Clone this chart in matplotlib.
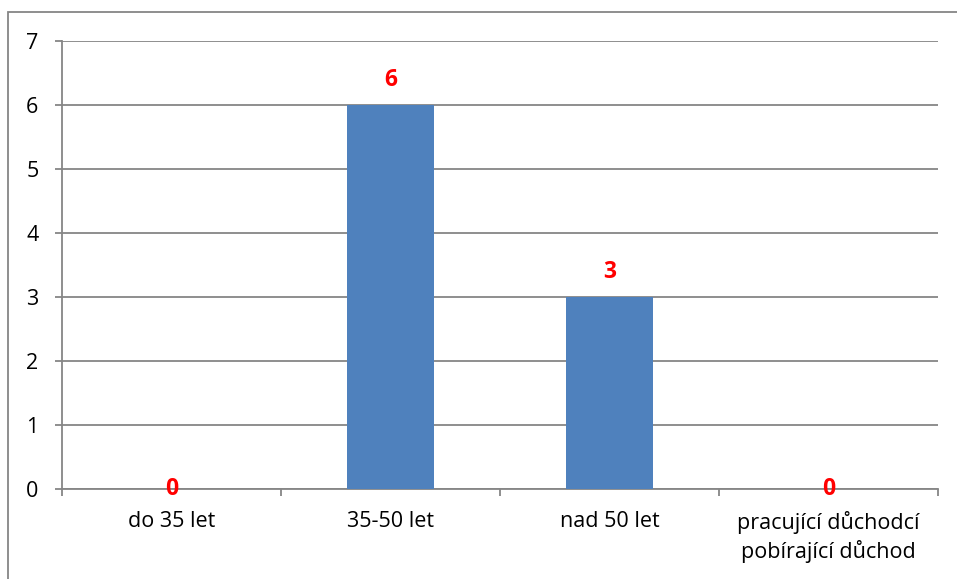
import matplotlib
matplotlib.use("Agg")
import matplotlib.pyplot as plt
from matplotlib.patches import Rectangle

categories = ["do 35 let", "35-50 let", "nad 50 let", "pracující důchodcí\npobírající důchod"]
values = [0, 6, 3, 0]
yticks = [0, 1, 2, 3, 4, 5, 6, 7]

plt.rcParams['font.family'] = ['Open Sans', 'DejaVu Sans']

W, H = 957, 579
fig = plt.figure(figsize=(W/100, H/100), dpi=100)
ax = fig.add_axes([62/W, 1-489/H, (938-62)/W, (489-41)/H])

grid_c = '#868686'
x = list(range(len(categories)))
ax.bar(x, values, width=0.4, color='#4F81BD', zorder=3)
ax.set_xlim(-0.5, len(categories)-0.5)
ax.set_ylim(0, 7)
ax.set_yticks(yticks)
ax.yaxis.grid(True, color=grid_c, linewidth=1.3, zorder=0)
ax.set_xticks(x)
ax.set_xticklabels(categories, fontsize=15.5, linespacing=1.3)
ax.set_xticks([i - 0.5 for i in range(len(categories)+1)], minor=True)
ax.tick_params(axis='x', which='major', length=0, pad=16)
ax.tick_params(axis='x', which='minor', length=5, color=grid_c, width=1.3)
ax.tick_params(axis='y', length=5, color=grid_c, width=1.3, labelsize=15.5, pad=12)
for s in ['top', 'right']:
    ax.spines[s].set_visible(False)
for s in ['left', 'bottom']:
    ax.spines[s].set_color(grid_c)
    ax.spines[s].set_linewidth(1.3)

for xi, v in zip(x, values):
    off = 18 if v > 0 else 0
    ax.annotate(str(v), (xi, v), xytext=(0, off), textcoords='offset points',
                ha='center', va='center', color='red',
                fontsize=16.5, fontweight='bold', zorder=5, annotation_clip=False)

fig.patches.append(Rectangle((8/W, -0.1), 1.2, 1 - 12/H + 0.1, transform=fig.transFigure,
                             fill=False, edgecolor=grid_c, linewidth=1.3))
fig.savefig("out.png", dpi=100)
